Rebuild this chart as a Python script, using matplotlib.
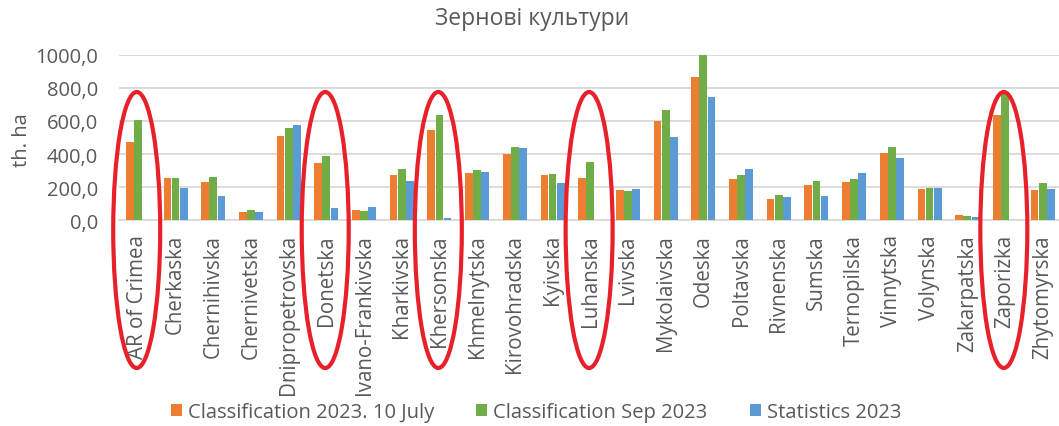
import matplotlib
matplotlib.use("Agg")
import matplotlib.pyplot as plt
from matplotlib.patches import Ellipse
import numpy as np

categories = ["AR of Crimea", "Cherkaska", "Chernihivska", "Chernivetska", "Dnipropetrovska",
              "Donetska", "Ivano-Frankivska", "Kharkivska", "Khersonska", "Khmelnytska",
              "Kirovohradska", "Kyivska", "Luhanska", "Lvivska", "Mykolaivska", "Odeska",
              "Poltavska", "Rivnenska", "Sumska", "Ternopilska", "Vinnytska", "Volynska",
              "Zakarpatska", "Zaporizka", "Zhytomyrska"]

class_july = [471, 253, 231, 48, 509, 344, 62, 273, 544, 287, 400, 273, 255, 185, 601, 865,
              247, 127, 215, 233, 408, 189, 30, 637, 182]
class_sep = [605, 257, 261, 60, 555, 390, 58, 310, 637, 302, 442, 279, 350, 177, 666, 1000,
             273, 151, 237, 247, 441, 197, 24, 772, 223]
statistics = [np.nan, 195, 148, 52, 577, 74, 80, 239, 14, 291, 435, 223, np.nan, 189, 501, 744,
              310, 141, 147, 284, 376, 193, 20, np.nan, 187]

series_names = ["Classification 2023. 10 July", "Classification Sep 2023", "Statistics 2023"]
highlighted = ["AR of Crimea", "Donetska", "Khersonska", "Luhanska", "Zaporizka"]
yticks = [0, 200, 400, 600, 800, 1000]

colors = ["#ED7D31", "#70AD47", "#5B9BD5"]
text_color = "#595959"
grid_color = "#D9D9D9"
FONT = ["Open Sans", "DejaVu Sans"]

W, H = 1059, 427
fig = plt.figure(figsize=(W / 100, H / 100), dpi=100)
ax_left, ax_right = 119, 1061.5
ax_bottom, ax_top = H - 221.3, H - 55.7
ax = fig.add_axes([ax_left / W, ax_bottom / H, (ax_right - ax_left) / W, (ax_top - ax_bottom) / H])

x = np.arange(len(categories))
bw = 0.205
for i, (vals, col) in enumerate(zip([class_july, class_sep, statistics], colors)):
    ax.bar(x + (i - 1) * 0.216, vals, width=bw, color=col, label=series_names[i], zorder=3)

ax.set_xlim(-0.5, len(categories) - 0.5)
ax.set_ylim(0, 1000)
ax.set_yticks(yticks)
ax.set_yticklabels([f"{v:.1f}".replace(".", ",") for v in yticks], fontsize=14.5,
                   color=text_color, family=FONT)
ax.set_xticks(x)
ax.set_xticklabels(categories, rotation=90, fontsize=14.8, color=text_color, family=FONT,
                   va="top", ha="center")
ax.tick_params(axis="y", length=0, pad=15)
ax.tick_params(axis="x", length=0, pad=10)
ax.grid(axis="y", color=grid_color, linewidth=1.3, zorder=0)
for s in ["top", "right", "left"]:
    ax.spines[s].set_visible(False)
ax.spines["bottom"].set_color(grid_color)
ax.spines["bottom"].set_linewidth(1.3)

fig.text(22 / W, 1 - 140 / H, "th. ha", rotation=90, ha="center", va="center",
         fontsize=14.5, color=text_color, family=FONT)
fig.text(532 / W, 1 - 19 / H, "Зернові культури", ha="center", va="center",
         fontsize=16.5, color=text_color, family=FONT)

# red ellipses (annotation)
px_per_unit_y = (ax_top - ax_bottom) / 1000
px_per_cat = (ax_right - ax_left) / len(categories)
ell_top, ell_bot, ell_w = 93, 369, 47
yc = ((H - (ell_top + ell_bot) / 2) - ax_bottom) / px_per_unit_y
hh = (ell_bot - ell_top) / px_per_unit_y
for name in highlighted:
    idx = categories.index(name)
    e = Ellipse((idx - 0.03, yc), ell_w / px_per_cat, hh, fill=False, edgecolor="#E8202A",
                linewidth=3.0, clip_on=False, zorder=10)
    ax.add_patch(e)

leg = fig.legend(loc="center", bbox_to_anchor=(536 / W, 1 - 413 / H), ncol=3, frameon=False,
                 handlelength=0.55, handleheight=0.55, handletextpad=0.3,
                 columnspacing=2.1, prop={"family": FONT, "size": 14.5})
for t in leg.get_texts():
    t.set_color(text_color)

fig.savefig("out.png", dpi=100)
